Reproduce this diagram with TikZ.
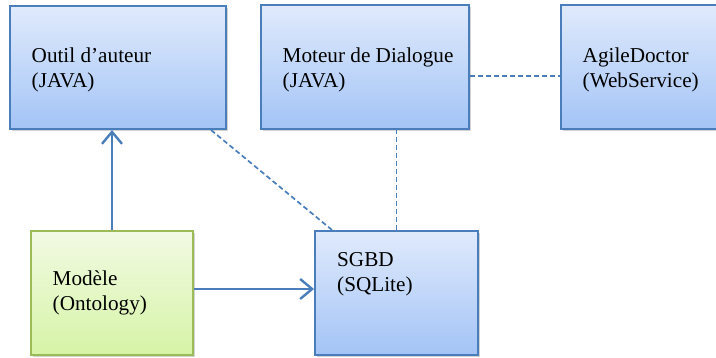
\documentclass[tikz,border=0pt]{standalone}
\usepackage{fontspec}
\setmainfont{Liberation Serif}
\usetikzlibrary{arrows.meta,shadows}
\definecolor{linkblue}{RGB}{74,126,187}
\definecolor{boxtop}{RGB}{224,234,252}
\definecolor{boxbot}{RGB}{163,196,246}
\definecolor{greenline}{RGB}{155,187,89}
\definecolor{greentop}{RGB}{242,250,228}
\definecolor{greenbot}{RGB}{214,244,166}
\tikzset{
  bluebox/.style={draw=linkblue, line width=2pt, top color=boxtop, bottom color=boxbot,
    drop shadow={opacity=0.35, shadow xshift=1.5pt, shadow yshift=-2.5pt}, inner sep=0pt},
  greenbox/.style={draw=greenline, line width=2pt, top color=greentop, bottom color=greenbot,
    drop shadow={opacity=0.35, shadow xshift=1.5pt, shadow yshift=-2.5pt}, inner sep=0pt},
  label/.style={anchor=north west, align=left, inner sep=0pt, font=\fontsize{21.2}{25}\selectfont},
  solidlink/.style={draw=linkblue, line width=2.4pt, -{Straight Barb[length=12pt,width=20pt,line width=2.4pt]}},
  dashlink/.style={draw=linkblue, line width=1.7pt, dash pattern=on 5pt off 3pt}
}
\begin{document}
\begin{tikzpicture}[x=1pt,y=-1pt]
\useasboundingbox (0,0) rectangle (716,358);
\node[bluebox, minimum width=216pt, minimum height=123pt] (outil) at (118,67.5) {};
\node[bluebox, minimum width=208pt, minimum height=124pt] (moteur) at (365,67) {};
\node[bluebox, minimum width=165pt, minimum height=124pt] (agile) at (643.5,67) {};
\node[greenbox, minimum width=162pt, minimum height=124pt] (modele) at (112,293) {};
\node[bluebox, minimum width=163pt, minimum height=124pt] (sgbd) at (396.5,293) {};

\node[label] (outilt) at (31.5,48) {Outil d’auteur\\(JAVA)};
\node[label] (moteurt) at (282.5,48) {Moteur de Dialogue\\(JAVA)};
\node[label] (agilet) at (582.5,48) {AgileDoctor\\(WebService)};
\node[label] (modelet) at (52.5,271) {Modèle\\(Ontology)};
\node[label] (sgbdt) at (337,252) {SGBD\\(SQLite)};

\draw[solidlink] (modele.north) -- (modele.north |- outil.south);
\draw[solidlink] ([yshift=4pt]modele.east) -- ([yshift=4pt]sgbd.west);
\draw[dashlink] ([xshift=-16pt]outil.south east) -- ([xshift=18pt]sgbd.north west);
\draw[dashlink] (sgbd.north) -- (sgbd.north |- moteur.south);
\draw[dashlink] ([yshift=-9pt]moteur.east) -- ([yshift=-9pt]moteur.east -| agile.west);
\end{tikzpicture}
\end{document}
